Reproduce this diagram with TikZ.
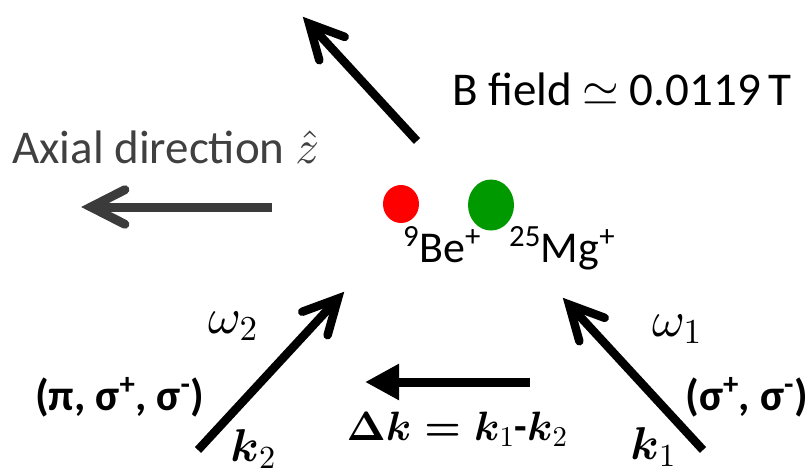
\documentclass[tikz,border=0pt]{standalone}
\usepackage{amsmath}
\usepackage{fontspec}
\setmainfont{Carlito}
\DeclareFontShape{OML}{cmm}{m}{it}{<->cmmi10}{}
\DeclareFontShape{OML}{cmm}{b}{it}{<->cmmib10}{}
\DeclareFontShape{OMS}{cmsy}{m}{n}{<->cmsy10}{}
\DeclareFontShape{OMS}{cmsy}{b}{n}{<->cmbsy10}{}
\DeclareFontShape{OMX}{cmex}{m}{n}{<->cmex10}{}
\DeclareFontShape{OT1}{cmr}{m}{n}{<->cmr10}{}
\DeclareFontShape{OT1}{cmr}{bx}{n}{<->cmbx10}{}
\usetikzlibrary{arrows.meta,calc,shapes.geometric}
\definecolor{axgray}{HTML}{404040}
\definecolor{argray}{HTML}{3B3B3B}
\definecolor{ionred}{HTML}{FF0000}
\definecolor{iongreen}{HTML}{009900}
\newcommand\openarrow[3][]{%
  \coordinate (p-#3) at ($(#3)!9pt!(#2)$);
  \draw[shaft,#1] (#2) -- (p-#3);
  \draw[barb,#1] ($(p-#3)!38pt!27:(#2)$) -- (p-#3) -- ($(p-#3)!38pt!-27:(#2)$);}
\begin{document}
\begin{tikzpicture}[x=1pt,y=-1pt,
  shaft/.style={line width=8.5pt,line cap=butt},
  barb/.style={line width=8.5pt,line cap=round,line join=miter},
  lbl/.style={inner sep=0pt,font=\fontsize{47}{52}\selectfont},
  ionlbl/.style={inner sep=0pt,font=\fontsize{44}{50}\selectfont},
  wlbl/.style={inner sep=0pt,font=\fontsize{50}{56}\selectfont},
  klbl/.style={inner sep=0pt,font=\fontsize{46}{52}\selectfont},
  ion/.style={ellipse,inner sep=0pt,draw=none}]
\useasboundingbox (0,0) rectangle (811,475);
% B field arrow
\coordinate (Btail) at (417,141);
\coordinate (Btip) at (303,17);
\openarrow{Btail}{Btip}
% axial arrow
\coordinate (Atail) at (272,207);
\coordinate (Atip) at (82,207);
\openarrow[argray,line width=9pt]{Atail}{Atip}
% omega2 arrow
\coordinate (W2tail) at (198,450);
\coordinate (W2tip) at (344,292);
\openarrow{W2tail}{W2tip}
% omega1 arrow
\coordinate (W1tail) at (703,450);
\coordinate (W1tip) at (563,298);
\openarrow{W1tail}{W1tip}
% delta k arrow
\coordinate (Dtail) at (530,382);
\coordinate (Dtip) at (365,382);
\draw[line width=9pt,-{Triangle[length=34pt,width=34pt]}] (Dtail) -- (Dtip);
% ions
\node[ion,fill=ionred,minimum width=36pt,minimum height=38pt] (be) at (401,204) {};
\node[ion,fill=iongreen,minimum width=46pt,minimum height=51pt] (mg) at (491,205) {};
% labels
\node[lbl,anchor=base west] (bf) at (452,105) {B field $\simeq$ 0.0119\,T};
\node[lbl,anchor=base west,text=axgray] (ax) at (12,163) {Axial direction $\hat{z}$};
\node[ionlbl,anchor=base west] (beL) at (403,262) {\textsuperscript{9}Be\textsuperscript{+}};
\node[ionlbl,anchor=base west] (mgL) at (509,262) {\textsuperscript{25}Mg\textsuperscript{+}};
\node[wlbl] (w2) at (233,326) {$\omega_2$};
\node[wlbl] (w1) at (677,329) {$\omega_1$};
\node[klbl] (k2) at (253,449) {$\boldsymbol{k}_2$};
\node[klbl] (k1) at (653,447) {$\boldsymbol{k}_1$};
\node[ionlbl,anchor=west,font=\fontsize{44}{50}\selectfont\bfseries] (pol2) at (35,397) {(π, σ\textsuperscript{+}, σ\textsuperscript{-})};
\node[ionlbl,anchor=east,font=\fontsize{44}{50}\selectfont\bfseries] (pol1) at (808,397) {(σ\textsuperscript{+}, σ\textsuperscript{-})};
\node[inner sep=0pt,font=\fontsize{41}{46}\selectfont,anchor=base] (dk) at (457,440) {$\boldsymbol{\Delta k = k}_1\textbf{-}\boldsymbol{k}_2$};
\end{tikzpicture}
\end{document}
